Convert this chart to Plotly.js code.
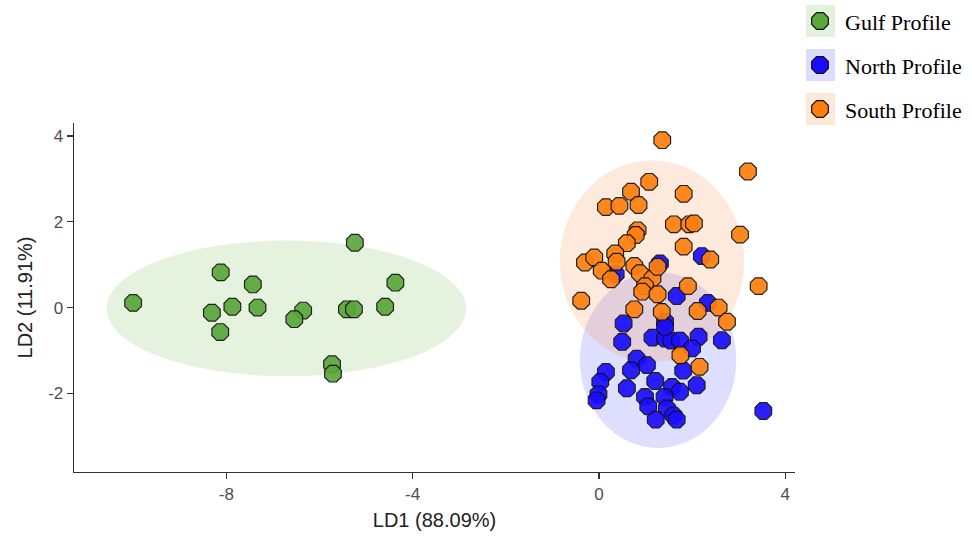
<!DOCTYPE html>
<html>
<head>
<meta charset="utf-8">
<script src="https://cdn.plot.ly/plotly-3.0.1.min.js"></script>
<style>html,body{margin:0;padding:0;background:#fff;}#chart{width:972px;height:540px;}</style>
</head>
<body>
<div id="chart"></div>
<script>
// ---- data ----
const groupNames = ["Gulf Profile", "North Profile", "South Profile"];

const gulfX = [-10.0, -8.12, -7.43, -8.31, -7.87, -7.33, -8.13, -6.35, -6.54, -5.24, -5.41, -5.26, -4.59, -4.37, -5.73, -5.71];
const gulfY = [0.11, 0.82, 0.54, -0.12, 0.02, 0.00, -0.57, -0.07, -0.27, 1.51, -0.04, -0.04, 0.02, 0.58, -1.32, -1.54];

const northX = [1.31, 2.21, 0.36, 1.67, 2.34, 0.53, 1.42, 0.50, 1.15, 1.42, 1.55, 1.74, 2.14, 2.64, 1.42, 2.00,
                0.81, 1.03, 0.69, 0.15, 1.81, 0.03, 1.21, 0.60, 1.57, 2.10, 1.74, -0.01, -0.05, 0.99, 1.41, 1.06,
                1.46, 1.60, 1.22, 1.67, 3.53];
const northY = [1.03, 1.20, 0.78, 0.27, 0.11, -0.37, -0.33, -0.80, -0.70, -0.72, -0.77, -0.77, -0.68, -0.76, -0.45, -0.95,
                -1.19, -1.34, -1.46, -1.50, -1.47, -1.73, -1.71, -1.88, -1.85, -1.81, -1.96, -2.02, -2.16, -2.08, -2.08, -2.30,
                -2.35, -2.51, -2.61, -2.61, -2.41];

const southX = [1.36, 3.20, 1.08, 0.69, 1.82, 0.15, 0.44, 0.85, 1.61, 1.94, 2.04, 3.03, 0.83, 0.79, 0.60, 1.82,
                -0.30, -0.10, 0.35, 0.38, 0.06, 0.26, 0.76, 0.88, 1.15, 1.26, 0.99, 0.93, 1.26, 2.39, 3.43, -0.38,
                1.91, 0.76, 1.35, 2.12, 2.57, 2.75, 1.75, 2.16];
const southY = [3.90, 3.17, 2.93, 2.70, 2.65, 2.34, 2.37, 2.39, 1.94, 1.94, 1.96, 1.70, 1.80, 1.69, 1.50, 1.42,
                1.05, 1.17, 1.26, 1.07, 0.86, 0.66, 0.97, 0.80, 0.68, 0.95, 0.50, 0.37, 0.31, 1.12, 0.50, 0.16,
                0.50, -0.04, -0.10, -0.08, 0.00, -0.33, -1.11, -1.38];

// ellipse centres and semi-axes (Gulf, North, South)
const ellipseCX = [-6.71, 1.27, 1.14];
const ellipseCY = [-0.02, -1.22, 1.08];
const ellipseRX = [3.86, 1.68, 1.98];
const ellipseRY = [1.58, 2.05, 2.35];

const xTicks = [-8, -4, 0, 4];
const yTicks = [-2, 0, 2, 4];

// ---- styles ----
const markerColors = ["#5AA83A", "#1A0DFF", "#FF7F0E"];
const fillColors = ["rgba(120,190,90,0.20)", "rgba(90,90,255,0.20)", "rgba(250,150,80,0.20)"];
const keyColors = ["#E4F1DC", "#DCDCFE", "#FDE8DA"];

const W = 972, H = 540;
const plotL = 74, plotR = 795, plotT = 123, plotB = 472;

const xs = [gulfX, northX, southX];
const ys = [gulfY, northY, southY];

const traces = [];
for (let i = 0; i < 3; i++) {
  traces.push({
    type: "scatter", mode: "markers", x: xs[i], y: ys[i], name: groupNames[i],
    xaxis: "x", yaxis: "y", showlegend: false, hoverinfo: "skip",
    marker: {symbol: "octagon", size: 18, color: markerColors[i], opacity: 0.92,
             line: {color: "#111", width: 1.2}}
  });
}

// custom legend markers on a pixel-space overlay axis
const legX = [820, 820, 820];
const legY = [21, 65, 109];
traces.push({
  type: "scatter", mode: "markers", x: legX, y: legY, xaxis: "x2", yaxis: "y2",
  showlegend: false, hoverinfo: "skip",
  marker: {symbol: "octagon", size: 18, color: markerColors, line: {color: "#111", width: 1.2}}
});

const shapes = [];
for (let i = 0; i < 3; i++) {
  shapes.push({
    type: "circle", xref: "x", yref: "y", layer: "below",
    x0: ellipseCX[i] - ellipseRX[i], x1: ellipseCX[i] + ellipseRX[i],
    y0: ellipseCY[i] - ellipseRY[i], y1: ellipseCY[i] + ellipseRY[i],
    fillcolor: fillColors[i], line: {width: 0}
  });
  shapes.push({
    type: "rect", xref: "x2", yref: "y2", layer: "below",
    x0: 806, x1: 835, y0: legY[i] - 16, y1: legY[i] + 16,
    fillcolor: keyColors[i], line: {width: 0}
  });
}

const annotations = groupNames.map((g, i) => ({
  xref: "x2", yref: "y2", x: 843, y: legY[i] + 1, text: g, showarrow: false,
  xanchor: "left", yanchor: "middle",
  font: {family: "Liberation Serif, Times New Roman, serif", size: 22, color: "#000"}
}));

const layout = {
  width: W, height: H,
  margin: {l: 0, r: 0, t: 0, b: 0},
  paper_bgcolor: "#ffffff", plot_bgcolor: "rgba(0,0,0,0)",
  showlegend: false,
  font: {family: "Liberation Sans, Arial, sans-serif", color: "#4d4d4d"},
  xaxis: {
    domain: [plotL / W, plotR / W], range: [-11.27, 4.21],
    tickvals: xTicks, ticktext: xTicks.map(String),
    showgrid: false, zeroline: false, showline: true, linecolor: "#333", linewidth: 1.3,
    ticks: "outside", ticklen: 6, tickcolor: "#333", tickwidth: 1.3,
    tickfont: {size: 17, color: "#4d4d4d"},
    title: {text: "LD1 (88.09%)", font: {size: 20, color: "#222"}, standoff: 10},
    anchor: "y"
  },
  yaxis: {
    domain: [(H - plotB) / H, (H - plotT) / H], range: [-3.83, 4.30],
    tickvals: yTicks, ticktext: yTicks.map(String),
    showgrid: false, zeroline: false, showline: true, linecolor: "#333", linewidth: 1.3,
    ticks: "outside", ticklen: 6, tickcolor: "#333", tickwidth: 1.3,
    tickfont: {size: 17, color: "#4d4d4d"},
    title: {text: "LD2 (11.91%)", font: {size: 20, color: "#222"}, standoff: 10},
    anchor: "x"
  },
  xaxis2: {domain: [0, 1], range: [0, W], visible: false, anchor: "y2", fixedrange: true},
  yaxis2: {domain: [0, 1], range: [H, 0], visible: false, anchor: "x2", fixedrange: true},
  shapes: shapes,
  annotations: annotations
};

Plotly.newPlot("chart", traces, layout, {staticPlot: true, displayModeBar: false});
</script>
</body>
</html>
